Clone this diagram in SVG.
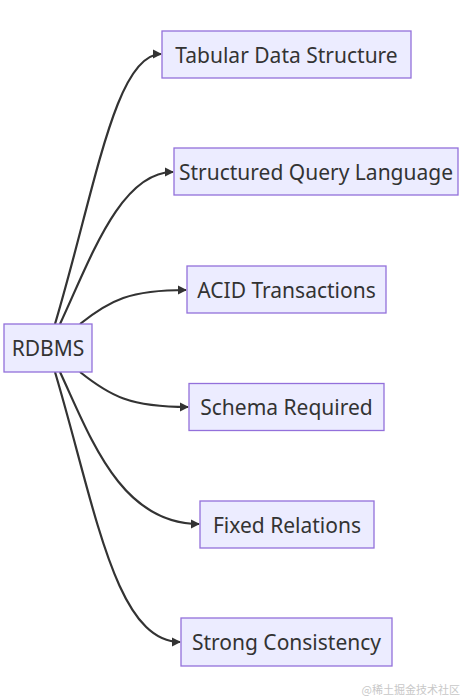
<svg xmlns="http://www.w3.org/2000/svg" width="464" height="700" viewBox="0 0 464 700">
<style>
.node rect{fill:#ECECFF;stroke:#9370DB;stroke-width:1.3}
.node text{font-family:"Noto Sans","DejaVu Sans",sans-serif;font-size:21px;fill:#333;text-anchor:middle;dominant-baseline:central}
.edges path{fill:none;stroke:#333;stroke-width:2.2}
.wm{font-family:"Noto Sans CJK SC",sans-serif;font-size:11px;fill:#c8c8c8}
</style>
<defs>
<marker id="arrow" viewBox="0 0 10 10" refX="9" refY="5" markerWidth="4.2" markerHeight="4.2" orient="auto" markerUnits="strokeWidth">
<path d="M0,0 L10,5 L0,10 z" fill="#333"/>
</marker>
</defs>
<rect width="464" height="700" fill="#fff"/>
<g class="edges">
<path d="M55,324 C95,190 115,54 161,54" marker-end="url(#arrow)"/>
<path d="M60,324 C90,260 120,172 173,172" marker-end="url(#arrow)"/>
<path d="M80,324 C110,300 130,290 186,290" marker-end="url(#arrow)"/>
<path d="M80,372 C110,396 130,407 188,407" marker-end="url(#arrow)"/>
<path d="M60,372 C90,436 120,524 199,524" marker-end="url(#arrow)"/>
<path d="M55,372 C95,506 115,642 180,642" marker-end="url(#arrow)"/>
</g>
<g id="rdbms" class="node"><rect x="4" y="324" width="88" height="48"/><text x="48" y="348">RDBMS</text></g>
<g id="tabular" class="node"><rect x="162" y="31" width="249" height="47"/><text x="286.5" y="54.5">Tabular Data Structure</text></g>
<g id="sql" class="node"><rect x="174" y="148" width="284" height="47"/><text x="316" y="171.5">Structured Query Language</text></g>
<g id="acid" class="node"><rect x="187" y="266" width="199" height="47"/><text x="286.5" y="289.5">ACID Transactions</text></g>
<g id="schema" class="node"><rect x="189" y="383.5" width="195" height="47"/><text x="286.5" y="407">Schema Required</text></g>
<g id="fixed" class="node"><rect x="200" y="501" width="174" height="47"/><text x="287" y="524.5">Fixed Relations</text></g>
<g id="strong" class="node"><rect x="181" y="618" width="211" height="48"/><text x="286.5" y="642">Strong Consistency</text></g>
<text class="wm" x="460" y="694" text-anchor="end">@稀土掘金技术社区</text>
</svg>
